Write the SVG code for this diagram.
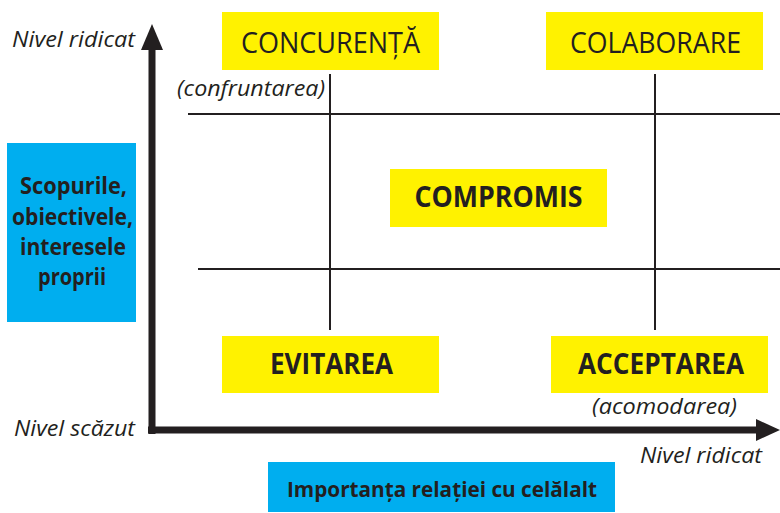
<svg xmlns="http://www.w3.org/2000/svg" width="780" height="513" viewBox="0 0 780 513">
<style>
.y{fill:#fff200}
.b{fill:#00aeef}
.t{font-family:"Open Sans","Noto Sans",sans-serif;fill:#231f20}
.big{font-size:29px}
.bold{font-weight:bold}
.bb{font-size:28px}
.it{font-style:italic;font-size:22px}
.side{font-size:23px;font-weight:bold}
.ln{stroke:#231f20;stroke-width:2;fill:none}
.ax{stroke:#231f20;stroke-width:7;fill:none}
</style>
<rect width="780" height="513" fill="#fff"/>
<g id="connectors">
<line class="ln" x1="330" y1="74" x2="330" y2="330"/>
<line class="ln" x1="655" y1="74" x2="655" y2="330"/>
<line class="ln" x1="188" y1="114" x2="780" y2="114"/>
<line class="ln" x1="198" y1="269" x2="780" y2="269"/>
</g>
<g id="axes">
<path class="ax" d="M152,434 V48 M148,430 H760"/>
<polygon points="152,24 141,50 163,50" fill="#231f20"/>
<polygon points="780,430 756,419 756,441" fill="#231f20"/>
<text class="t it" x="12" y="47" textLength="123" lengthAdjust="spacingAndGlyphs">Nivel ridicat</text>
<text class="t it" x="14" y="436" textLength="121" lengthAdjust="spacingAndGlyphs">Nivel scăzut</text>
<text class="t it" x="640" y="463" textLength="122" lengthAdjust="spacingAndGlyphs">Nivel ridicat</text>
</g>
<g id="concurenta">
<rect class="y" x="222" y="12" width="217" height="58"/>
<text class="t big" x="330.5" y="53" text-anchor="middle" textLength="179" lengthAdjust="spacingAndGlyphs">CONCURENȚĂ</text>
<text class="t it" x="177" y="96" textLength="148" lengthAdjust="spacingAndGlyphs">(confruntarea)</text>
</g>
<g id="colaborare">
<rect class="y" x="546" y="12" width="217" height="58"/>
<text class="t big" x="655.5" y="53" text-anchor="middle" textLength="171" lengthAdjust="spacingAndGlyphs">COLABORARE</text>
</g>
<g id="compromis">
<rect class="y" x="390" y="169" width="217" height="58"/>
<text class="t bb bold" x="498.5" y="207" text-anchor="middle" textLength="168" lengthAdjust="spacingAndGlyphs">COMPROMIS</text>
</g>
<g id="evitarea">
<rect class="y" x="222" y="336" width="217" height="57"/>
<text class="t bb bold" x="331.5" y="374" text-anchor="middle" textLength="123" lengthAdjust="spacingAndGlyphs">EVITAREA</text>
</g>
<g id="acceptarea">
<rect class="y" x="551" y="336" width="217" height="57"/>
<text class="t bb bold" x="661" y="374" text-anchor="middle" textLength="166" lengthAdjust="spacingAndGlyphs">ACCEPTAREA</text>
<text class="t it" x="592" y="414" textLength="145" lengthAdjust="spacingAndGlyphs">(acomodarea)</text>
</g>
<g id="scopurile">
<rect class="b" x="7" y="143" width="129" height="179"/>
<text class="t side" x="73.5" y="194" text-anchor="middle" textLength="107" lengthAdjust="spacingAndGlyphs">Scopurile,</text>
<text class="t side" x="72.5" y="225" text-anchor="middle" textLength="121" lengthAdjust="spacingAndGlyphs">obiectivele,</text>
<text class="t side" x="73" y="255" text-anchor="middle" textLength="106" lengthAdjust="spacingAndGlyphs">interesele</text>
<text class="t side" x="72" y="285" text-anchor="middle" textLength="68" lengthAdjust="spacingAndGlyphs">proprii</text>
</g>
<g id="importanta">
<rect class="b" x="268" y="462" width="347" height="50"/>
<text class="t bold" font-size="22" x="442" y="497" text-anchor="middle" textLength="310" lengthAdjust="spacingAndGlyphs">Importanța relației cu celălalt</text>
</g>
</svg>
